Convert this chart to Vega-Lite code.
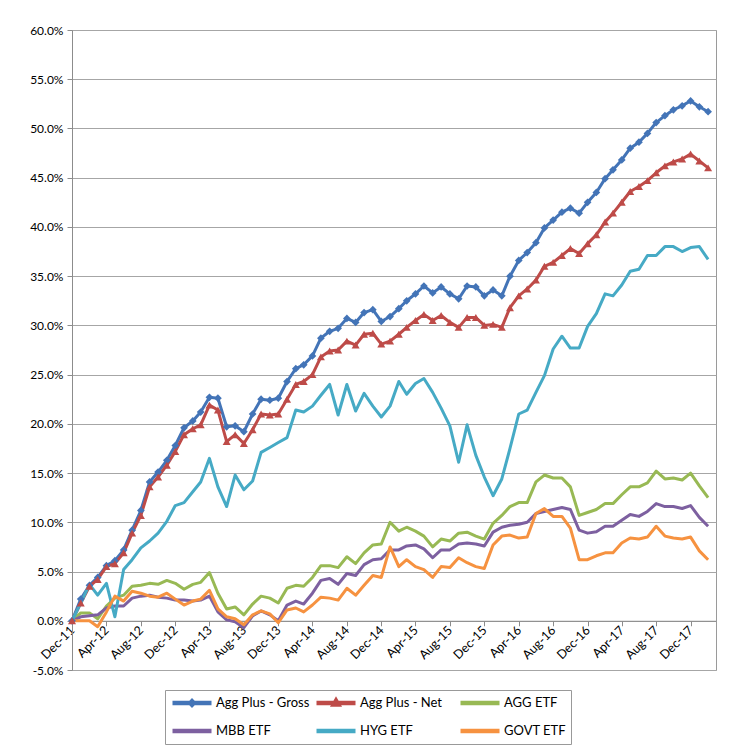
{
 "$schema": "https://vega.github.io/schema/vega-lite/v6.json",
 "width": 644,
 "height": 640,
 "autosize": {"type": "none"},
 "padding": {"left": 72, "top": 30, "right": 38, "bottom": 86},
 "background": "white",
 "config": {
  "font": "Lato",
  "view": {"stroke": "#9a9a9a", "strokeWidth": 1},
  "axis": {"labelFont": "Lato", "labelFontSize": 12, "labelColor": "#000000", "domainColor": "#8c8c8c", "tickColor": "#8c8c8c", "gridColor": "#a6a6a6", "gridWidth": 1, "title": null}
 },
 "data": {"values": [
  {"d":"2011-12-01","Agg Plus - Gross":0,"Agg Plus - Net":0,"AGG ETF":0,"MBB ETF":0,"HYG ETF":0,"GOVT ETF":0},
  {"d":"2012-01-01","Agg Plus - Gross":2.2,"Agg Plus - Net":1.8,"AGG ETF":0.8,"MBB ETF":0.4,"HYG ETF":1.8,"GOVT ETF":0},
  {"d":"2012-02-01","Agg Plus - Gross":3.6,"Agg Plus - Net":3.5,"AGG ETF":0.8,"MBB ETF":0.5,"HYG ETF":3.7,"GOVT ETF":0},
  {"d":"2012-03-01","Agg Plus - Gross":4.4,"Agg Plus - Net":4.2,"AGG ETF":0.2,"MBB ETF":0.6,"HYG ETF":2.6,"GOVT ETF":-0.6},
  {"d":"2012-04-01","Agg Plus - Gross":5.6,"Agg Plus - Net":5.5,"AGG ETF":1.5,"MBB ETF":1.3,"HYG ETF":3.8,"GOVT ETF":0.9},
  {"d":"2012-05-01","Agg Plus - Gross":6.1,"Agg Plus - Net":5.8,"AGG ETF":2.3,"MBB ETF":1.5,"HYG ETF":0.4,"GOVT ETF":2.5},
  {"d":"2012-06-01","Agg Plus - Gross":7.2,"Agg Plus - Net":6.9,"AGG ETF":2.6,"MBB ETF":1.5,"HYG ETF":5.2,"GOVT ETF":2.0},
  {"d":"2012-07-01","Agg Plus - Gross":9.2,"Agg Plus - Net":8.9,"AGG ETF":3.5,"MBB ETF":2.3,"HYG ETF":6.2,"GOVT ETF":3.0},
  {"d":"2012-08-01","Agg Plus - Gross":11.2,"Agg Plus - Net":10.7,"AGG ETF":3.6,"MBB ETF":2.5,"HYG ETF":7.4,"GOVT ETF":2.8},
  {"d":"2012-09-01","Agg Plus - Gross":14.1,"Agg Plus - Net":13.6,"AGG ETF":3.8,"MBB ETF":2.6,"HYG ETF":8.1,"GOVT ETF":2.5},
  {"d":"2012-10-01","Agg Plus - Gross":15.1,"Agg Plus - Net":14.6,"AGG ETF":3.7,"MBB ETF":2.4,"HYG ETF":8.9,"GOVT ETF":2.4},
  {"d":"2012-11-01","Agg Plus - Gross":16.3,"Agg Plus - Net":15.8,"AGG ETF":4.1,"MBB ETF":2.3,"HYG ETF":10.1,"GOVT ETF":2.8},
  {"d":"2012-12-01","Agg Plus - Gross":17.8,"Agg Plus - Net":17.2,"AGG ETF":3.8,"MBB ETF":2.1,"HYG ETF":11.7,"GOVT ETF":2.2},
  {"d":"2013-01-01","Agg Plus - Gross":19.6,"Agg Plus - Net":18.9,"AGG ETF":3.2,"MBB ETF":2.1,"HYG ETF":12.0,"GOVT ETF":1.6},
  {"d":"2013-02-01","Agg Plus - Gross":20.3,"Agg Plus - Net":19.5,"AGG ETF":3.7,"MBB ETF":2.0,"HYG ETF":13.1,"GOVT ETF":2.0},
  {"d":"2013-03-01","Agg Plus - Gross":21.2,"Agg Plus - Net":19.9,"AGG ETF":3.9,"MBB ETF":2.1,"HYG ETF":14.1,"GOVT ETF":2.2},
  {"d":"2013-04-01","Agg Plus - Gross":22.7,"Agg Plus - Net":21.9,"AGG ETF":4.9,"MBB ETF":2.5,"HYG ETF":16.5,"GOVT ETF":3.1},
  {"d":"2013-05-01","Agg Plus - Gross":22.6,"Agg Plus - Net":21.4,"AGG ETF":2.8,"MBB ETF":0.9,"HYG ETF":13.6,"GOVT ETF":1.2},
  {"d":"2013-06-01","Agg Plus - Gross":19.7,"Agg Plus - Net":18.2,"AGG ETF":1.2,"MBB ETF":0.1,"HYG ETF":11.6,"GOVT ETF":0.4},
  {"d":"2013-07-01","Agg Plus - Gross":19.8,"Agg Plus - Net":18.9,"AGG ETF":1.4,"MBB ETF":-0.1,"HYG ETF":14.8,"GOVT ETF":0.2},
  {"d":"2013-08-01","Agg Plus - Gross":19.2,"Agg Plus - Net":18.0,"AGG ETF":0.6,"MBB ETF":-0.7,"HYG ETF":13.3,"GOVT ETF":-0.4},
  {"d":"2013-09-01","Agg Plus - Gross":21.0,"Agg Plus - Net":19.4,"AGG ETF":1.7,"MBB ETF":0.5,"HYG ETF":14.2,"GOVT ETF":0.6},
  {"d":"2013-10-01","Agg Plus - Gross":22.5,"Agg Plus - Net":21.0,"AGG ETF":2.5,"MBB ETF":1.0,"HYG ETF":17.1,"GOVT ETF":1.0},
  {"d":"2013-11-01","Agg Plus - Gross":22.4,"Agg Plus - Net":20.9,"AGG ETF":2.3,"MBB ETF":0.6,"HYG ETF":17.6,"GOVT ETF":0.7},
  {"d":"2013-12-01","Agg Plus - Gross":22.6,"Agg Plus - Net":21.0,"AGG ETF":1.8,"MBB ETF":0.0,"HYG ETF":18.1,"GOVT ETF":-0.2},
  {"d":"2014-01-01","Agg Plus - Gross":24.3,"Agg Plus - Net":22.5,"AGG ETF":3.3,"MBB ETF":1.6,"HYG ETF":18.6,"GOVT ETF":1.1},
  {"d":"2014-02-01","Agg Plus - Gross":25.6,"Agg Plus - Net":24.0,"AGG ETF":3.6,"MBB ETF":2.0,"HYG ETF":21.4,"GOVT ETF":1.3},
  {"d":"2014-03-01","Agg Plus - Gross":26.0,"Agg Plus - Net":24.3,"AGG ETF":3.5,"MBB ETF":1.7,"HYG ETF":21.2,"GOVT ETF":0.9},
  {"d":"2014-04-01","Agg Plus - Gross":26.9,"Agg Plus - Net":25.0,"AGG ETF":4.4,"MBB ETF":2.8,"HYG ETF":21.8,"GOVT ETF":1.6},
  {"d":"2014-05-01","Agg Plus - Gross":28.7,"Agg Plus - Net":26.8,"AGG ETF":5.6,"MBB ETF":4.1,"HYG ETF":22.9,"GOVT ETF":2.4},
  {"d":"2014-06-01","Agg Plus - Gross":29.4,"Agg Plus - Net":27.4,"AGG ETF":5.6,"MBB ETF":4.3,"HYG ETF":24.0,"GOVT ETF":2.3},
  {"d":"2014-07-01","Agg Plus - Gross":29.7,"Agg Plus - Net":27.5,"AGG ETF":5.4,"MBB ETF":3.7,"HYG ETF":20.9,"GOVT ETF":2.1},
  {"d":"2014-08-01","Agg Plus - Gross":30.7,"Agg Plus - Net":28.4,"AGG ETF":6.5,"MBB ETF":4.8,"HYG ETF":24.0,"GOVT ETF":3.3},
  {"d":"2014-09-01","Agg Plus - Gross":30.3,"Agg Plus - Net":28.0,"AGG ETF":5.8,"MBB ETF":4.6,"HYG ETF":21.3,"GOVT ETF":2.6},
  {"d":"2014-10-01","Agg Plus - Gross":31.3,"Agg Plus - Net":29.1,"AGG ETF":6.9,"MBB ETF":5.7,"HYG ETF":23.1,"GOVT ETF":3.6},
  {"d":"2014-11-01","Agg Plus - Gross":31.6,"Agg Plus - Net":29.2,"AGG ETF":7.7,"MBB ETF":6.2,"HYG ETF":21.8,"GOVT ETF":4.6},
  {"d":"2014-12-01","Agg Plus - Gross":30.4,"Agg Plus - Net":28.1,"AGG ETF":7.8,"MBB ETF":6.3,"HYG ETF":20.7,"GOVT ETF":4.4},
  {"d":"2015-01-01","Agg Plus - Gross":30.9,"Agg Plus - Net":28.4,"AGG ETF":10.0,"MBB ETF":7.2,"HYG ETF":21.8,"GOVT ETF":7.5},
  {"d":"2015-02-01","Agg Plus - Gross":31.7,"Agg Plus - Net":29.1,"AGG ETF":9.1,"MBB ETF":7.2,"HYG ETF":24.3,"GOVT ETF":5.5},
  {"d":"2015-03-01","Agg Plus - Gross":32.5,"Agg Plus - Net":29.8,"AGG ETF":9.5,"MBB ETF":7.6,"HYG ETF":23.0,"GOVT ETF":6.2},
  {"d":"2015-04-01","Agg Plus - Gross":33.2,"Agg Plus - Net":30.5,"AGG ETF":9.1,"MBB ETF":7.7,"HYG ETF":24.1,"GOVT ETF":5.5},
  {"d":"2015-05-01","Agg Plus - Gross":34.0,"Agg Plus - Net":31.1,"AGG ETF":8.6,"MBB ETF":7.3,"HYG ETF":24.6,"GOVT ETF":5.2},
  {"d":"2015-06-01","Agg Plus - Gross":33.3,"Agg Plus - Net":30.5,"AGG ETF":7.5,"MBB ETF":6.4,"HYG ETF":23.2,"GOVT ETF":4.4},
  {"d":"2015-07-01","Agg Plus - Gross":33.9,"Agg Plus - Net":31.0,"AGG ETF":8.3,"MBB ETF":7.2,"HYG ETF":21.6,"GOVT ETF":5.5},
  {"d":"2015-08-01","Agg Plus - Gross":33.2,"Agg Plus - Net":30.3,"AGG ETF":8.1,"MBB ETF":7.2,"HYG ETF":19.8,"GOVT ETF":5.4},
  {"d":"2015-09-01","Agg Plus - Gross":32.7,"Agg Plus - Net":29.8,"AGG ETF":8.9,"MBB ETF":7.8,"HYG ETF":16.1,"GOVT ETF":6.4},
  {"d":"2015-10-01","Agg Plus - Gross":34.0,"Agg Plus - Net":30.8,"AGG ETF":9.0,"MBB ETF":7.9,"HYG ETF":19.9,"GOVT ETF":5.9},
  {"d":"2015-11-01","Agg Plus - Gross":33.9,"Agg Plus - Net":30.8,"AGG ETF":8.6,"MBB ETF":7.8,"HYG ETF":16.8,"GOVT ETF":5.5},
  {"d":"2015-12-01","Agg Plus - Gross":33.0,"Agg Plus - Net":30.0,"AGG ETF":8.3,"MBB ETF":7.6,"HYG ETF":14.6,"GOVT ETF":5.3},
  {"d":"2016-01-01","Agg Plus - Gross":33.6,"Agg Plus - Net":30.1,"AGG ETF":9.9,"MBB ETF":9.0,"HYG ETF":12.7,"GOVT ETF":7.7},
  {"d":"2016-02-01","Agg Plus - Gross":33.0,"Agg Plus - Net":29.8,"AGG ETF":10.7,"MBB ETF":9.5,"HYG ETF":14.4,"GOVT ETF":8.6},
  {"d":"2016-03-01","Agg Plus - Gross":35.0,"Agg Plus - Net":31.8,"AGG ETF":11.6,"MBB ETF":9.7,"HYG ETF":17.5,"GOVT ETF":8.7},
  {"d":"2016-04-01","Agg Plus - Gross":36.6,"Agg Plus - Net":33.0,"AGG ETF":12.0,"MBB ETF":9.8,"HYG ETF":21.0,"GOVT ETF":8.4},
  {"d":"2016-05-01","Agg Plus - Gross":37.4,"Agg Plus - Net":33.7,"AGG ETF":12.0,"MBB ETF":10.0,"HYG ETF":21.4,"GOVT ETF":8.5},
  {"d":"2016-06-01","Agg Plus - Gross":38.4,"Agg Plus - Net":34.6,"AGG ETF":14.1,"MBB ETF":10.9,"HYG ETF":23.2,"GOVT ETF":10.9},
  {"d":"2016-07-01","Agg Plus - Gross":39.9,"Agg Plus - Net":36.0,"AGG ETF":14.8,"MBB ETF":11.1,"HYG ETF":24.9,"GOVT ETF":11.4},
  {"d":"2016-08-01","Agg Plus - Gross":40.7,"Agg Plus - Net":36.4,"AGG ETF":14.5,"MBB ETF":11.3,"HYG ETF":27.6,"GOVT ETF":10.6},
  {"d":"2016-09-01","Agg Plus - Gross":41.5,"Agg Plus - Net":37.1,"AGG ETF":14.5,"MBB ETF":11.5,"HYG ETF":28.9,"GOVT ETF":10.6},
  {"d":"2016-10-01","Agg Plus - Gross":41.9,"Agg Plus - Net":37.8,"AGG ETF":13.6,"MBB ETF":11.3,"HYG ETF":27.7,"GOVT ETF":9.4},
  {"d":"2016-11-01","Agg Plus - Gross":41.4,"Agg Plus - Net":37.3,"AGG ETF":10.7,"MBB ETF":9.2,"HYG ETF":27.7,"GOVT ETF":6.2},
  {"d":"2016-12-01","Agg Plus - Gross":42.5,"Agg Plus - Net":38.3,"AGG ETF":11.0,"MBB ETF":8.9,"HYG ETF":29.9,"GOVT ETF":6.2},
  {"d":"2017-01-01","Agg Plus - Gross":43.5,"Agg Plus - Net":39.2,"AGG ETF":11.3,"MBB ETF":9.05,"HYG ETF":31.2,"GOVT ETF":6.6},
  {"d":"2017-02-01","Agg Plus - Gross":44.9,"Agg Plus - Net":40.5,"AGG ETF":11.9,"MBB ETF":9.6,"HYG ETF":33.2,"GOVT ETF":6.9},
  {"d":"2017-03-01","Agg Plus - Gross":45.8,"Agg Plus - Net":41.4,"AGG ETF":11.9,"MBB ETF":9.6,"HYG ETF":33.0,"GOVT ETF":6.9},
  {"d":"2017-04-01","Agg Plus - Gross":46.8,"Agg Plus - Net":42.5,"AGG ETF":12.8,"MBB ETF":10.2,"HYG ETF":34.1,"GOVT ETF":7.9},
  {"d":"2017-05-01","Agg Plus - Gross":48.0,"Agg Plus - Net":43.6,"AGG ETF":13.6,"MBB ETF":10.8,"HYG ETF":35.5,"GOVT ETF":8.4},
  {"d":"2017-06-01","Agg Plus - Gross":48.6,"Agg Plus - Net":44.1,"AGG ETF":13.6,"MBB ETF":10.6,"HYG ETF":35.7,"GOVT ETF":8.3},
  {"d":"2017-07-01","Agg Plus - Gross":49.5,"Agg Plus - Net":44.7,"AGG ETF":14.0,"MBB ETF":11.1,"HYG ETF":37.1,"GOVT ETF":8.5},
  {"d":"2017-08-01","Agg Plus - Gross":50.6,"Agg Plus - Net":45.5,"AGG ETF":15.2,"MBB ETF":11.9,"HYG ETF":37.1,"GOVT ETF":9.6},
  {"d":"2017-09-01","Agg Plus - Gross":51.3,"Agg Plus - Net":46.2,"AGG ETF":14.4,"MBB ETF":11.6,"HYG ETF":38.0,"GOVT ETF":8.6},
  {"d":"2017-10-01","Agg Plus - Gross":51.9,"Agg Plus - Net":46.6,"AGG ETF":14.5,"MBB ETF":11.6,"HYG ETF":38.0,"GOVT ETF":8.4},
  {"d":"2017-11-01","Agg Plus - Gross":52.3,"Agg Plus - Net":46.9,"AGG ETF":14.3,"MBB ETF":11.4,"HYG ETF":37.5,"GOVT ETF":8.3},
  {"d":"2017-12-01","Agg Plus - Gross":52.8,"Agg Plus - Net":47.4,"AGG ETF":15.0,"MBB ETF":11.7,"HYG ETF":37.9,"GOVT ETF":8.5},
  {"d":"2018-01-01","Agg Plus - Gross":52.2,"Agg Plus - Net":46.7,"AGG ETF":13.7,"MBB ETF":10.5,"HYG ETF":38.0,"GOVT ETF":7.1},
  {"d":"2018-02-01","Agg Plus - Gross":51.7,"Agg Plus - Net":46.0,"AGG ETF":12.5,"MBB ETF":9.6,"HYG ETF":36.7,"GOVT ETF":6.2}
 ]},
 "transform": [
  {"fold": ["Agg Plus - Gross","Agg Plus - Net","AGG ETF","MBB ETF","HYG ETF","GOVT ETF"], "as": ["series","value"]}
 ],
 "encoding": {
  "x": {
   "field": "d", "type": "temporal",
   "scale": {"type": "utc", "domain": [{"year":2011,"month":12,"date":1,"utc":true},{"year":2018,"month":3,"date":1,"utc":true}]},
   "axis": {
    "values": [
     {"year":2011,"month":12,"date":1,"utc":true},{"year":2012,"month":4,"date":1,"utc":true},{"year":2012,"month":8,"date":1,"utc":true},
     {"year":2012,"month":12,"date":1,"utc":true},{"year":2013,"month":4,"date":1,"utc":true},{"year":2013,"month":8,"date":1,"utc":true},
     {"year":2013,"month":12,"date":1,"utc":true},{"year":2014,"month":4,"date":1,"utc":true},{"year":2014,"month":8,"date":1,"utc":true},
     {"year":2014,"month":12,"date":1,"utc":true},{"year":2015,"month":4,"date":1,"utc":true},{"year":2015,"month":8,"date":1,"utc":true},
     {"year":2015,"month":12,"date":1,"utc":true},{"year":2016,"month":4,"date":1,"utc":true},{"year":2016,"month":8,"date":1,"utc":true},
     {"year":2016,"month":12,"date":1,"utc":true},{"year":2017,"month":4,"date":1,"utc":true},{"year":2017,"month":8,"date":1,"utc":true},
     {"year":2017,"month":12,"date":1,"utc":true}
    ],
    "labelExpr": "utcFormat(datum.value, '%b-%y')",
    "labelAngle": -45, "labelAlign": "right", "labelBaseline": "middle",
    "labelPadding": 2, "labelFlush": false, "labelOverlap": false, "labelBound": false,
    "labelFontSize": 12.5, "labelDx": 4,
    "tickSize": 5, "offset": -49.23, "grid": false, "title": null
   }
  },
  "y": {
   "field": "value", "type": "quantitative",
   "scale": {"domain": [-5, 60], "nice": false, "zero": false},
   "axis": {
    "values": [-5,0,5,10,15,20,25,30,35,40,45,50,55,60],
    "labelExpr": "(datum.value < 0 ? '-' : '') + format(abs(datum.value), '.1f') + '%'",
    "grid": true, "tickSize": 5, "labelPadding": 4, "title": null
   }
  }
 },
 "layer": [
  {
   "mark": {"type": "line", "strokeWidth": 3, "strokeJoin": "round"},
   "encoding": {
    "color": {
     "field": "series", "type": "nominal",
     "sort": ["Agg Plus - Gross","Agg Plus - Net","AGG ETF","MBB ETF","HYG ETF","GOVT ETF"],
     "scale": {"domain": ["Agg Plus - Gross","Agg Plus - Net","AGG ETF","MBB ETF","HYG ETF","GOVT ETF"],
               "range": ["#4374B7","#BE4B48","#98B954","#7D60A0","#46AAC5","#F69240"]},
     "legend": {
      "title": null, "orient": "none", "legendX": 93, "legendY": 660,
      "direction": "horizontal",
      "columns": 3, "gridAlign": "all", "columnPadding": 4, "rowPadding": 12,
      "clipHeight": 16, "symbolType": "stroke", "symbolSize": 1521, "symbolStrokeWidth": 4.5,
      "labelOffset": 2, "labelFont": "Lato", "labelFontSize": 13, "labelColor": "#000000",
      "padding": 5, "strokeColor": "#999999", "fillColor": "white",
      "encode": {
       "symbols": {"update": {
        "shape": {"signal": "datum.value === 'Agg Plus - Gross' ? 'M-1,0H1M-0.09,0L0,-0.09L0.09,0L0,0.09Z' : datum.value === 'Agg Plus - Net' ? 'M-1,0H1M-0.11,0.08L0,-0.11L0.11,0.08Z' : 'M-1,0H1'"},
        "fill": {"scale": "color", "field": "value"},
        "fillOpacity": {"value": 1}
       }}
      }
     }
    }
   }
  },
  {
   "transform": [{"filter": {"field": "series", "equal": "Agg Plus - Gross"}}],
   "mark": {"type": "point", "shape": "diamond", "filled": true, "size": 60, "color": "#4374B7", "opacity": 1}
  },
  {
   "transform": [{"filter": {"field": "series", "equal": "Agg Plus - Net"}}],
   "mark": {"type": "point", "shape": "triangle-up", "filled": true, "size": 64, "color": "#BE4B48", "opacity": 1}
  }
 ]
}
